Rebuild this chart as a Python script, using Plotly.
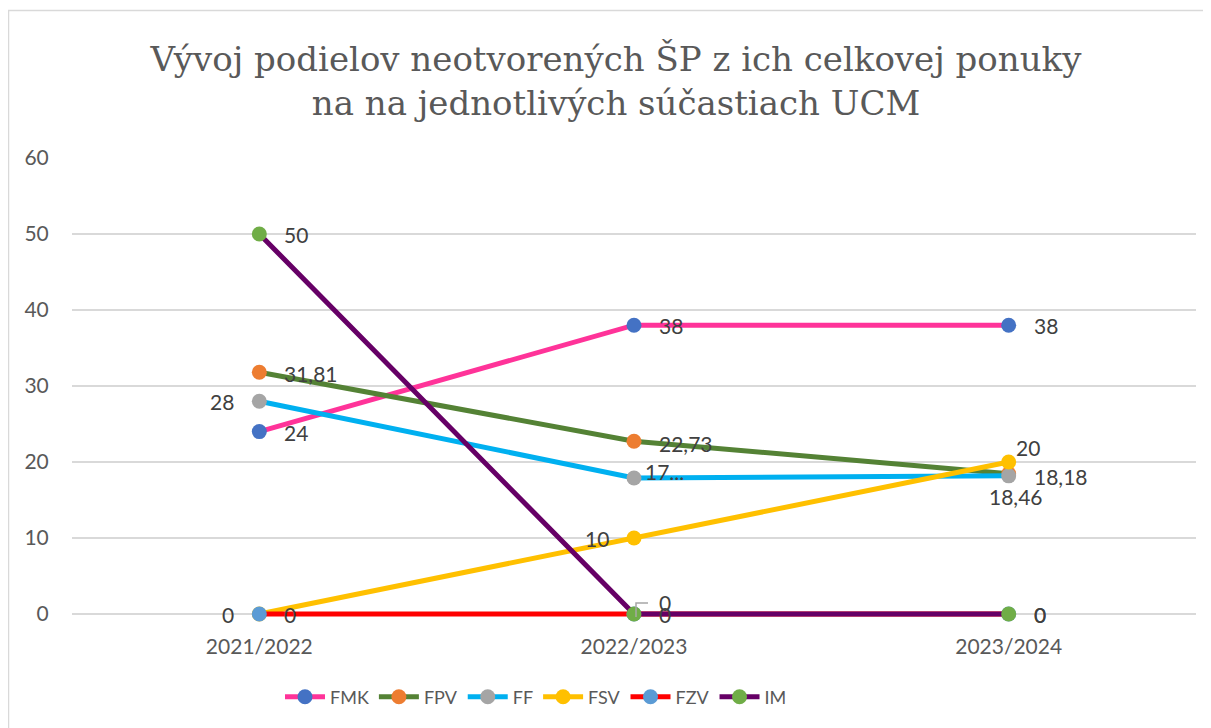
import plotly.graph_objects as go

categories = ["2021/2022", "2022/2023", "2023/2024"]
series_names = ["FMK", "FPV", "FF", "FSV", "FZV", "IM"]
fmk = [24, 38, 38]
fpv = [31.81, 22.73, 18.46]
ff = [28, 17.9, 18.18]
fsv = [0, 10, 20]
fzv = [0, 0, 0]
im = [50, 0, 0]

fmk_labels = ["24", "38", "38"]
fpv_labels = ["31,81", "22,73", "18,46"]
ff_labels = ["28", "17...", "18,18"]
fsv_labels = ["0", "10", "20"]
fzv_labels = ["0", "0", "0"]
im_labels = ["50", "0", "0"]

line_colors = ["#FF3399", "#548235", "#00B0F0", "#FFC000", "#FF0000", "#660066"]
marker_colors = ["#4472C4", "#ED7D31", "#A5A5A5", "#FFC000", "#5B9BD5", "#70AD47"]

# label placement per point: (xanchor, xshift, yshift)
R_ = ("left", 23, 0)
L_ = ("right", -23, 0)
placements = [
    [("left", 23, -1), R_, R_],
    [("left", 23, -1), ("left", 23, -2), ("center", 7, -23)],
    [L_, ("left", 9, 6), ("left", 23, -1)],
    [L_, L_, ("center", 19, 15)],
    [R_, ("left", 23, 0), R_],
    [R_, ("left", 23, 12), R_],
]

values = [fmk, fpv, ff, fsv, fzv, im]
labels = [fmk_labels, fpv_labels, ff_labels, fsv_labels, fzv_labels, im_labels]

FONT = "Lato, Carlito, Calibri, sans-serif"

fig = go.Figure()
for name, vals, lc, mc in zip(series_names, values, line_colors, marker_colors):
    fig.add_trace(go.Scatter(
        x=categories, y=vals, name=name, mode="lines+markers",
        line=dict(color=lc, width=5),
        marker=dict(color=mc, size=15),
        cliponaxis=False,
    ))

for vals, labs, pl in zip(values, labels, placements):
    for cat, v, t, (xa, xs, ys) in zip(categories, vals, labs, pl):
        fig.add_annotation(x=cat, y=v, text=t, showarrow=False,
                           xanchor=xa, yanchor="middle", xshift=xs, yshift=ys,
                           font=dict(family=FONT, size=21, color="#404040"))

# small leader line of the IM label at 2022/2023
fig.add_shape(type="path", xref="x", yref="y", xsizemode="pixel", ysizemode="pixel",
              xanchor=categories[1], yanchor=im[1],
              path="M 2 -3 L 2 11 L 14 11",
              line=dict(color="#A6A6A6", width=1.5))

W, H = 1203, 720
PX_PER_UNIT = 7.6
EXTRA = 4  # pixels below zero so the zero-level lines are not cut
L, R, T = 64, 15, 150
B = 114 - EXTRA
pw = W - L - R
ph = H - T - B
y_min = -EXTRA / PX_PER_UNIT

fig.update_layout(
    width=W, height=H,
    margin=dict(l=L, r=R, t=T, b=B),
    paper_bgcolor="white", plot_bgcolor="white",
    title=dict(
        text="Vývoj podielov neotvorených ŠP z ich celkovej ponuky<br>na na jednotlivých súčastiach UCM",
        font=dict(family="DejaVu Serif, serif", size=34, color="#595959"),
        x=608 / W, xanchor="center", xref="container",
        y=1 - 63 / H, yanchor="middle", yref="container",
    ),
    xaxis=dict(
        type="category", range=[-0.5, 2.5], showgrid=False, zeroline=False,
        showline=False, ticks="outside", ticklen=10, tickcolor="rgba(0,0,0,0)",
        tickfont=dict(family=FONT, size=21, color="#595959"),
    ),
    yaxis=dict(
        range=[y_min, 60], tick0=0, dtick=10, showgrid=True, gridcolor="#D9D9D9", gridwidth=1.5,
        zeroline=False, showline=False, ticks="outside", ticklen=18,
        tickcolor="rgba(0,0,0,0)",
        tickfont=dict(family=FONT, size=21, color="#595959"),
    ),
    legend=dict(
        orientation="h", x=(528 - L) / pw, xanchor="center", y=(606 - EXTRA + 0 - 689) / ph + 0, yanchor="middle",
        font=dict(family=FONT, size=18, color="#595959"),
        itemwidth=40,
    ),
    showlegend=True,
)

bottom_px = 606 + EXTRA  # plot area bottom in figure pixels
fig.update_layout(legend_y=(bottom_px - 689) / ph)

fig.add_shape(type="rect", xref="paper", yref="paper",
              x0=(0.5 - L) / pw, x1=(W + 5 - L) / pw,
              y0=(bottom_px - (H + 5)) / ph, y1=(bottom_px - 2.5) / ph,
              line=dict(color="#D9D9D9", width=1.5), fillcolor="rgba(0,0,0,0)", layer="below")

fig.write_html("out.html")
